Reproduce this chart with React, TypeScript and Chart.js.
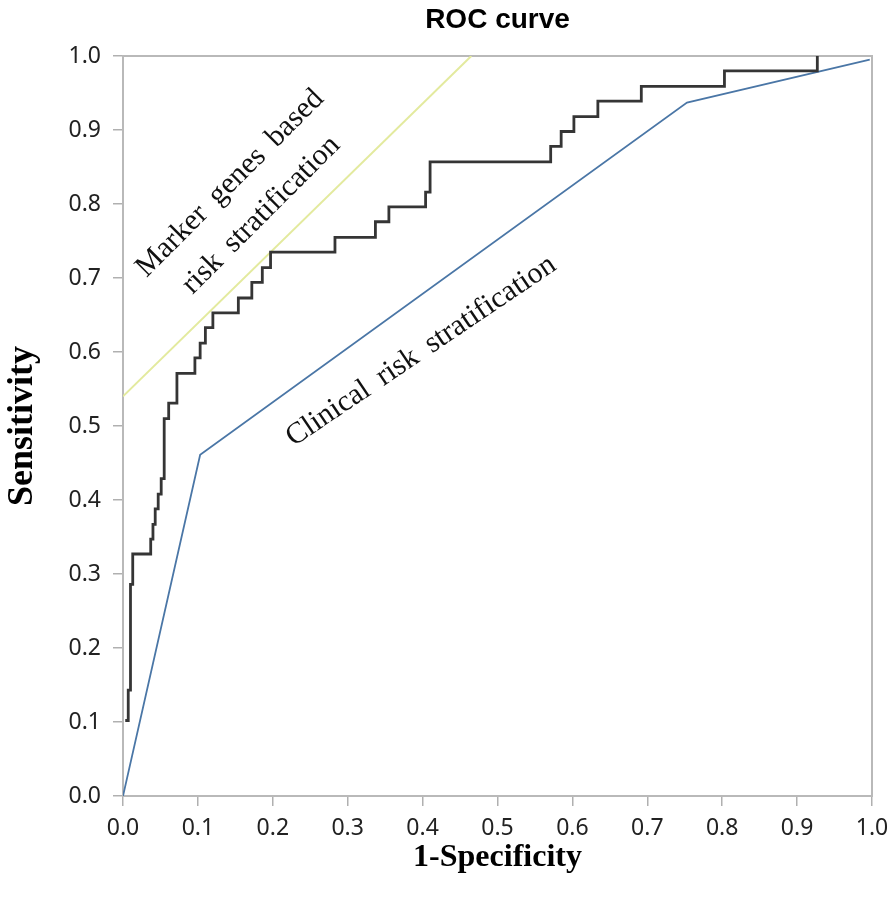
import React, { useEffect, useRef } from "react";
import { Chart, registerables } from "chart.js";

Chart.register(...registerables);

// Marker genes based risk stratification ROC (stepped)
const markerFpr = [0.003, 0.007, 0.010, 0.013, 0.037, 0.040, 0.043, 0.047, 0.051, 0.055, 0.061, 0.072, 0.096, 0.103, 0.110, 0.120, 0.154, 0.172, 0.186, 0.197, 0.283, 0.337, 0.355, 0.404, 0.410, 0.571, 0.585, 0.602, 0.634, 0.692, 0.803, 0.927];
const markerTpr = [0.102, 0.143, 0.286, 0.327, 0.347, 0.367, 0.388, 0.408, 0.429, 0.510, 0.531, 0.571, 0.592, 0.612, 0.633, 0.653, 0.673, 0.694, 0.714, 0.735, 0.755, 0.776, 0.796, 0.816, 0.857, 0.878, 0.898, 0.918, 0.939, 0.959, 0.980, 1.000];

// Clinical risk stratification ROC
const clinicalFpr = [0, 0.103, 0.753, 0.997];
const clinicalTpr = [0, 0.461, 0.937, 0.995];

// Pointer line next to the marker label
const guideFpr = [0, 0.465];
const guideTpr = [0.54, 1.0];

const tickValues = [0, 0.1, 0.2, 0.3, 0.4, 0.5, 0.6, 0.7, 0.8, 0.9, 1.0];

const titleText = "ROC curve";
const xTitle = "1-Specificity";
const yTitle = "Sensitivity";

const labelTexts = ["Marker genes based", "risk stratification", "Clinical risk stratification"];
const labelFpr = [0.143, 0.1845, 0.398];
const labelTpr = [0.828, 0.785, 0.601];
const labelAngle = [-45, -45, -34];

const toPoints = (xs: number[], ys: number[]) => xs.map((x, i) => ({ x, y: ys[i] }));

const framePlugin = {
  id: "frame",
  beforeDatasetsDraw(chart: any) {
    const { ctx, chartArea } = chart;
    ctx.save();
    ctx.strokeStyle = "#b9b9b9";
    ctx.lineWidth = 2;
    ctx.strokeRect(chartArea.left, chartArea.top, chartArea.right - chartArea.left, chartArea.bottom - chartArea.top);
    ctx.restore();
  },
};

const labelPlugin = {
  id: "labels",
  afterDatasetsDraw(chart: any) {
    const { ctx } = chart;
    const xs = chart.scales.x;
    const ys = chart.scales.y;
    ctx.save();
    ctx.fillStyle = "#111";
    ctx.font = '30px "Liberation Serif", serif';
    ctx.textAlign = "center";
    ctx.textBaseline = "middle";
    (ctx as any).wordSpacing = "6px";
    labelTexts.forEach((t, i) => {
      const px = xs.getPixelForValue(labelFpr[i]);
      const py = ys.getPixelForValue(labelTpr[i]);
      ctx.save();
      ctx.translate(px, py);
      ctx.rotate((labelAngle[i] * Math.PI) / 180);
      ctx.fillText(t, 0, 0);
      ctx.restore();
    });
    ctx.restore();
  },
};

export default function App() {
  const ref = useRef<HTMLCanvasElement | null>(null);
  useEffect(() => {
    if (!ref.current) return;
    const tickFont = { family: '"Noto Sans", sans-serif', size: 23 };
    const chart = new Chart(ref.current, {
      type: "line",
      data: {
        datasets: [
          {
            label: "Marker genes based risk stratification",
            data: toPoints(markerFpr, markerTpr),
            borderColor: "#353535",
            borderWidth: 2.8,
            stepped: "before",
            pointRadius: 0,
            fill: false,
          },
          {
            label: "Clinical risk stratification",
            data: toPoints(clinicalFpr, clinicalTpr),
            borderColor: "#4a76a6",
            borderWidth: 1.8,
            pointRadius: 0,
            tension: 0,
            fill: false,
          },
          {
            label: "guide",
            data: toPoints(guideFpr, guideTpr),
            borderColor: "#e3ea9e",
            borderWidth: 2,
            pointRadius: 0,
            fill: false,
          },
        ],
      },
      options: {
        animation: false,
        responsive: false,
        layout: { padding: { top: 0, right: 21, left: 0, bottom: 0 } },
        plugins: {
          legend: { display: false },
          tooltip: { enabled: false },
          title: {
            display: true,
            fullSize: false,
            text: titleText,
            color: "#000",
            font: { family: '"Liberation Sans", Arial, sans-serif', size: 28, weight: "bold", lineHeight: 1.2 },
            padding: { top: 3, bottom: 19.4 },
          },
        },
        scales: {
          x: {
            type: "linear",
            min: 0,
            max: 1,
            afterBuildTicks: (s: any) => {
              s.ticks = tickValues.map((v) => ({ value: v }));
            },
            afterFit: (s: any) => {
              s.height = 114;
              s.paddingLeft = 0;
              s.paddingRight = 0;
            },
            ticks: {
              font: tickFont,
              color: "#222",
              padding: 9,
              maxRotation: 0,
              callback: (v: any) => Number(v).toFixed(1),
            },
            grid: { drawOnChartArea: false, drawTicks: true, tickLength: 10, color: "#b0b0b0", lineWidth: 1.5 },
            border: { display: true, color: "#b9b9b9", width: 2 },
            title: {
              display: true,
              text: xTitle,
              color: "#000",
              font: { family: '"Liberation Serif", "Times New Roman", serif', size: 32, weight: "bold", lineHeight: 1.2 },
              padding: { top: 0, bottom: 33 },
            },
          },
          y: {
            type: "linear",
            min: 0,
            max: 1,
            afterBuildTicks: (s: any) => {
              s.ticks = tickValues.map((v) => ({ value: v }));
            },
            afterFit: (s: any) => {
              s.width = 123;
              s.paddingTop = 0;
              s.paddingBottom = 0;
            },
            ticks: {
              font: tickFont,
              color: "#222",
              padding: 12,
              callback: (v: any) => Number(v).toFixed(1),
            },
            grid: { drawOnChartArea: false, drawTicks: true, tickLength: 10, color: "#b0b0b0", lineWidth: 1.5 },
            border: { display: true, color: "#b9b9b9", width: 2 },
            title: {
              display: true,
              text: yTitle,
              color: "#000",
              font: { family: '"Liberation Serif", "Times New Roman", serif', size: 36, weight: "bold", lineHeight: 1.2 },
              padding: { top: 1, bottom: 0 },
            },
          },
        },
      },
      plugins: [framePlugin, labelPlugin],
    } as any);
    return () => chart.destroy();
  }, []);

  return (
    <div style={{ position: "absolute", left: 0, top: 0, width: 893, height: 910, background: "#fff" }}>
      <canvas ref={ref} width={893} height={910} />
    </div>
  );
}
